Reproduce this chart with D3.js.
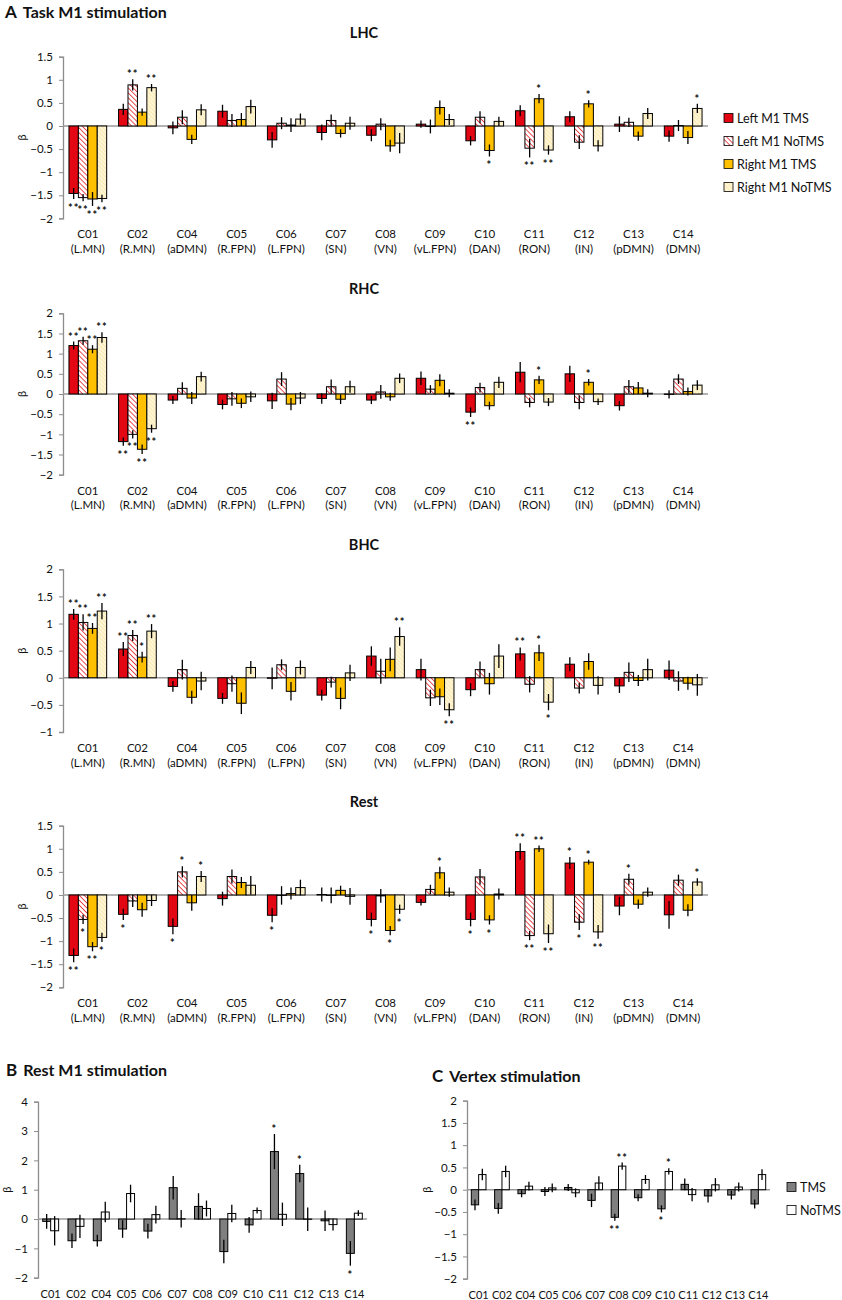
<!DOCTYPE html>
<html>
<head>
<meta charset="utf-8">
<script src="https://cdn.jsdelivr.net/npm/d3@7"></script>
<style>
  body { margin: 0; background: #fff; }
  text { font-family: Lato, "Open Sans", sans-serif; fill: #111; }
</style>
</head>
<body>
<div id="chart"></div>
<script>
// components and the networks they stand for
var categories = ["C01", "C02", "C04", "C05", "C06", "C07", "C08", "C09", "C10", "C11", "C12", "C13", "C14"];
var networks = ["(L.MN)", "(R.MN)", "(aDMN)", "(R.FPN)", "(L.FPN)", "(SN)", "(VN)", "(vL.FPN)", "(DAN)", "(RON)", "(IN)", "(pDMN)", "(DMN)"];
var seriesA = ["Left M1 TMS", "Left M1 NoTMS", "Right M1 TMS", "Right M1 NoTMS"];
var seriesBC = ["TMS", "NoTMS"];

// LHC  (order: Left TMS, Left NoTMS, Right TMS, Right NoTMS)
var lhcBeta = [
  [-1.46, 0.36, -0.04, 0.32, -0.30, -0.14, -0.20, 0.04, -0.32, 0.33, 0.20, 0.04, -0.22],
  [-1.55, 0.89, 0.19, 0.12, 0.06, 0.12, 0.04, -0.01, 0.19, -0.48, -0.35, 0.08, 0.01],
  [-1.58, 0.30, -0.29, 0.14, 0.02, -0.16, -0.43, 0.40, -0.53, 0.59, 0.48, -0.22, -0.25],
  [-1.57, 0.83, 0.35, 0.42, 0.15, 0.06, -0.37, 0.14, 0.10, -0.52, -0.43, 0.27, 0.38]
];
var lhcErr = [
  [0.12, 0.12, 0.14, 0.14, 0.17, 0.17, 0.13, 0.08, 0.10, 0.12, 0.12, 0.17, 0.12],
  [0.08, 0.12, 0.15, 0.14, 0.13, 0.13, 0.13, 0.15, 0.13, 0.20, 0.15, 0.10, 0.12],
  [0.15, 0.08, 0.10, 0.14, 0.15, 0.09, 0.13, 0.15, 0.13, 0.10, 0.08, 0.10, 0.14],
  [0.08, 0.08, 0.12, 0.15, 0.12, 0.14, 0.22, 0.12, 0.10, 0.10, 0.12, 0.12, 0.10]
];
var lhcStars = [
  ["**", "", "", "", "", "", "", "", "", "", "", "", ""],
  ["**", "**", "", "", "", "", "", "", "", "**", "", "", ""],
  ["**", "", "", "", "", "", "", "", "*", "*", "*", "", ""],
  ["**", "**", "", "", "", "", "", "", "", "**", "", "", "*"]
];

// RHC
var rhcBeta = [
  [1.20, -1.18, -0.15, -0.26, -0.17, -0.11, -0.15, 0.39, -0.45, 0.54, 0.50, -0.29, -0.01],
  [1.32, -1.00, 0.14, -0.12, 0.37, 0.18, 0.05, 0.12, 0.16, -0.21, -0.21, 0.18, 0.37],
  [1.11, -1.37, -0.10, -0.23, -0.25, -0.13, -0.07, 0.34, -0.29, 0.35, 0.29, 0.15, 0.06],
  [1.40, -0.86, 0.43, -0.07, -0.10, 0.18, 0.39, 0.02, 0.29, -0.20, -0.19, 0.02, 0.22]
];
var rhcErr = [
  [0.10, 0.10, 0.10, 0.12, 0.20, 0.13, 0.10, 0.17, 0.12, 0.25, 0.20, 0.12, 0.10],
  [0.10, 0.10, 0.15, 0.17, 0.17, 0.18, 0.17, 0.10, 0.12, 0.12, 0.17, 0.17, 0.12],
  [0.10, 0.12, 0.15, 0.12, 0.15, 0.12, 0.10, 0.15, 0.10, 0.10, 0.08, 0.15, 0.10],
  [0.13, 0.10, 0.12, 0.13, 0.15, 0.15, 0.12, 0.10, 0.14, 0.10, 0.08, 0.10, 0.12]
];
var rhcStars = [
  ["**", "**", "", "", "", "", "", "", "**", "", "", "", ""],
  ["**", "**", "", "", "", "", "", "", "", "", "", "", ""],
  ["**", "**", "", "", "", "", "", "", "", "*", "*", "", ""],
  ["**", "**", "", "", "", "", "", "", "", "", "", "", ""]
];

// BHC
var bhcBeta = [
  [1.17, 0.53, -0.16, -0.38, -0.01, -0.32, 0.40, 0.15, -0.22, 0.44, 0.25, -0.15, 0.14],
  [1.02, 0.78, 0.15, -0.11, 0.24, -0.08, 0.12, -0.37, 0.15, -0.12, -0.19, 0.10, -0.06],
  [0.91, 0.38, -0.36, -0.47, -0.25, -0.38, 0.34, -0.35, -0.11, 0.46, 0.30, -0.05, -0.10],
  [1.23, 0.86, -0.06, 0.19, 0.19, 0.09, 0.76, -0.59, 0.40, -0.45, -0.14, 0.15, -0.13]
];
var bhcErr = [
  [0.10, 0.13, 0.10, 0.10, 0.20, 0.10, 0.18, 0.20, 0.12, 0.12, 0.13, 0.13, 0.18],
  [0.15, 0.10, 0.18, 0.15, 0.10, 0.10, 0.23, 0.15, 0.15, 0.15, 0.10, 0.18, 0.18],
  [0.10, 0.10, 0.12, 0.20, 0.17, 0.20, 0.22, 0.15, 0.20, 0.15, 0.15, 0.10, 0.12],
  [0.15, 0.13, 0.17, 0.12, 0.13, 0.15, 0.17, 0.12, 0.22, 0.15, 0.17, 0.20, 0.20]
];
var bhcStars = [
  ["**", "**", "", "", "", "", "", "", "", "**", "", "", ""],
  ["**", "**", "", "", "", "", "", "", "", "", "", "", ""],
  ["**", "*", "", "", "", "", "", "", "", "*", "", "", ""],
  ["**", "**", "", "", "", "", "**", "**", "", "*", "", "", ""]
];

// Rest
var restBeta = [
  [-1.31, -0.42, -0.68, -0.08, -0.44, 0.01, -0.53, -0.16, -0.53, 0.94, 0.69, -0.24, -0.43],
  [-0.53, -0.13, 0.50, 0.40, -0.01, -0.01, -0.02, 0.12, 0.39, -0.88, -0.59, 0.34, 0.32],
  [-1.12, -0.32, -0.17, 0.27, 0.03, 0.10, -0.77, 0.48, -0.54, 1.00, 0.71, -0.20, -0.33],
  [-0.92, -0.12, 0.40, 0.21, 0.16, -0.03, -0.31, 0.06, 0.02, -0.84, -0.80, 0.06, 0.28]
];
var restErr = [
  [0.15, 0.12, 0.17, 0.15, 0.15, 0.15, 0.15, 0.07, 0.15, 0.18, 0.13, 0.20, 0.30],
  [0.10, 0.13, 0.12, 0.15, 0.20, 0.17, 0.15, 0.10, 0.17, 0.10, 0.17, 0.12, 0.12],
  [0.10, 0.15, 0.17, 0.12, 0.13, 0.10, 0.10, 0.13, 0.10, 0.07, 0.05, 0.10, 0.13],
  [0.10, 0.12, 0.12, 0.20, 0.17, 0.18, 0.10, 0.10, 0.12, 0.20, 0.15, 0.10, 0.08]
];
var restStars = [
  ["**", "*", "*", "", "*", "", "*", "", "*", "**", "*", "", ""],
  ["*", "", "*", "", "", "", "", "", "", "**", "*", "*", ""],
  ["**", "", "", "", "", "", "*", "*", "*", "**", "*", "", ""],
  ["*", "", "*", "", "", "", "*", "", "", "**", "**", "", "*"]
];

// B: Rest M1 stimulation (TMS, NoTMS)
var restM1Beta = [
  [-0.08, -0.74, -0.74, -0.34, -0.41, 1.07, 0.43, -1.11, -0.20, 2.30, 1.55, -0.06, -1.17],
  [-0.40, -0.25, 0.24, 0.87, 0.15, 0.01, 0.36, 0.19, 0.29, 0.16, -0.01, -0.19, 0.20]
];
var restM1Err = [
  [0.25, 0.25, 0.20, 0.30, 0.25, 0.40, 0.45, 0.40, 0.27, 0.60, 0.30, 0.35, 0.42],
  [0.50, 0.40, 0.35, 0.30, 0.30, 0.30, 0.27, 0.30, 0.10, 0.40, 0.40, 0.20, 0.10]
];
var restM1Stars = [
  ["", "", "", "", "", "", "", "", "", "*", "*", "", "*"],
  ["", "", "", "", "", "", "", "", "", "", "", "", ""]
];

// C: Vertex stimulation (TMS, NoTMS)
var vertexBeta = [
  [-0.34, -0.42, -0.09, -0.04, 0.05, -0.24, -0.62, -0.18, -0.43, 0.12, -0.14, -0.12, -0.32],
  [0.34, 0.41, 0.08, 0.04, -0.07, 0.15, 0.53, 0.23, 0.41, -0.11, 0.11, 0.06, 0.34]
];
var vertexErr = [
  [0.12, 0.12, 0.08, 0.10, 0.08, 0.15, 0.08, 0.08, 0.08, 0.13, 0.15, 0.10, 0.10],
  [0.13, 0.13, 0.10, 0.10, 0.10, 0.15, 0.08, 0.10, 0.07, 0.15, 0.15, 0.10, 0.12]
];
var vertexStars = [
  ["", "", "", "", "", "", "**", "", "*", "", "", "", ""],
  ["", "", "", "", "", "", "**", "", "*", "", "", "", ""]
];

var svg = d3.select("#chart").append("svg")
  .attr("width", 842)
  .attr("height", 1300);

// hatch patterns for the NoTMS bars
var defs = svg.append("defs");
var hatch = defs.append("pattern")
  .attr("id", "hatchRed")
  .attr("width", 3.5).attr("height", 3.5)
  .attr("patternUnits", "userSpaceOnUse")
  .attr("patternTransform", "rotate(-45)");
hatch.append("rect").attr("width", 3.5).attr("height", 3.5).attr("fill", "#fff");
hatch.append("line").attr("x1", 0).attr("y1", 0).attr("x2", 0).attr("y2", 3.5)
  .attr("stroke", "#e8242a").attr("stroke-width", 1.6);

var hatchY = defs.append("pattern")
  .attr("id", "hatchYellow")
  .attr("width", 3).attr("height", 3)
  .attr("patternUnits", "userSpaceOnUse")
  .attr("patternTransform", "rotate(-45)");
hatchY.append("rect").attr("width", 3).attr("height", 3).attr("fill", "#fff6d6");
hatchY.append("line").attr("x1", 0).attr("y1", 0).attr("x2", 0).attr("y2", 3)
  .attr("stroke", "#f8df96").attr("stroke-width", 1.2);

var fillsA = ["#e30613", "url(#hatchRed)", "#ffc000", "url(#hatchYellow)"];
var fillsBC = ["#7f7f7f", "#ffffff"];

function drawPanel(o) {
  var g = svg.append("g");

  var x = d3.scaleBand()
    .domain(categories)
    .range([o.x0, o.x1])
    .paddingInner(o.pad)
    .paddingOuter(o.pad / 2);

  var xs = d3.scaleBand()
    .domain(d3.range(o.beta.length))
    .range([0, x.bandwidth()]);

  var y = d3.scaleLinear()
    .domain(o.domain)
    .range([o.yBottom, o.yTop]);

  // y axis
  var ticks = d3.range(o.domain[0], o.domain[1] + o.step / 2, o.step);
  var yAxis = g.append("g")
    .attr("transform", "translate(" + o.x0 + ",0)")
    .call(d3.axisLeft(y).tickValues(ticks).tickSize(4).tickPadding(6)
      .tickFormat(function (d) { return d3.format("")(+d.toFixed(2)); }));
  yAxis.select(".domain").attr("stroke", "#8c8c8c").attr("stroke-width", 1.3);
  yAxis.selectAll(".tick line").attr("stroke", "#8c8c8c");
  yAxis.selectAll(".tick text").style("font-size", o.tickFont + "px").attr("fill", "#222");

  // zero line
  g.append("line")
    .attr("x1", o.x0).attr("x2", o.x1)
    .attr("y1", y(0)).attr("y2", y(0))
    .attr("stroke", "#9a9a9a").attr("stroke-width", 1.5);

  // beta label
  g.append("text")
    .attr("transform", "translate(" + o.betaX + "," + ((o.yTop + o.yBottom) / 2) + ") rotate(-90)")
    .attr("text-anchor", "middle")
    .style("font-size", "11px")
    .text("β");

  o.beta.forEach(function (vals, s) {
    var sg = g.append("g");
    var pts = categories.map(function (c, i) {
      return { c: c, v: vals[i], e: o.err[s][i], star: o.stars[s][i] };
    });

    sg.selectAll(".bar")
      .data(pts)
      .enter().append("rect")
      .attr("class", "bar")
      .attr("x", function (d) { return x(d.c) + xs(s); })
      .attr("width", xs.bandwidth())
      .attr("y", function (d) { return y(Math.max(0, d.v)); })
      .attr("height", function (d) { return Math.abs(y(d.v) - y(0)); })
      .attr("fill", o.fills[s])
      .attr("stroke", "#000")
      .attr("stroke-width", 1);

    sg.selectAll(".err")
      .data(pts)
      .enter().append("line")
      .attr("class", "err")
      .attr("x1", function (d) { return x(d.c) + xs(s) + xs.bandwidth() / 2; })
      .attr("x2", function (d) { return x(d.c) + xs(s) + xs.bandwidth() / 2; })
      .attr("y1", function (d) { return y(d.v - d.e); })
      .attr("y2", function (d) { return y(d.v + d.e); })
      .attr("stroke", "#000")
      .attr("stroke-width", 1.3);

    sg.selectAll(".star")
      .data(pts.filter(function (d) { return d.star; }))
      .enter().append("text")
      .attr("class", "star")
      .attr("x", function (d) { return x(d.c) + xs(s) + xs.bandwidth() / 2; })
      .attr("y", function (d) {
        return d.v >= 0 ? y(d.v + d.e) - 1 : y(d.v - d.e) + 13;
      })
      .attr("text-anchor", "middle")
      .style("font-size", "11px")
      .style("font-weight", "bold")
      .style("letter-spacing", "1px")
      .text(function (d) { return d.star; });
  });

  // category labels
  g.selectAll(".cat")
    .data(categories)
    .enter().append("text")
    .attr("x", function (d) { return x(d) + x.bandwidth() / 2; })
    .attr("y", o.yBottom + 20)
    .attr("text-anchor", "middle")
    .style("font-size", o.catFont + "px")
    .text(function (d) { return d; });

  if (o.sub) {
    g.selectAll(".sub")
      .data(networks)
      .enter().append("text")
      .attr("x", function (d, i) { return x(categories[i]) + x.bandwidth() / 2; })
      .attr("y", o.yBottom + 34.5)
      .attr("text-anchor", "middle")
      .style("font-size", o.catFont + "px")
      .text(function (d) { return d; });
  }

  if (o.title) {
    g.append("text")
      .attr("x", 364).attr("y", o.yTop - 19)
      .attr("text-anchor", "middle")
      .style("font-size", "14.5px")
      .style("font-weight", "bold")
      .text(o.title);
  }
}

function legend(names, fills, lx, ly, gap) {
  var lg = svg.append("g");
  names.forEach(function (n, i) {
    lg.append("rect")
      .attr("x", lx).attr("y", ly + i * gap - 4.5)
      .attr("width", 9).attr("height", 9)
      .attr("fill", fills[i]).attr("stroke", "#000").attr("stroke-width", 0.8);
    lg.append("text")
      .attr("x", lx + 13).attr("y", ly + i * gap + 4.5)
      .style("font-size", "12.5px")
      .text(n);
  });
}

function heading(letter, label, hx, hy) {
  var t = svg.append("text").attr("x", hx).attr("y", hy);
  t.append("tspan").style("font-size", "17px").style("font-weight", "bold").text(letter);
  t.append("tspan").attr("dx", 6).style("font-size", "16px").style("font-weight", "bold").text(label);
}

// Panel A
heading("A", "Task M1 stimulation", 5, 18);

var panelsA = [
  { title: "LHC", beta: lhcBeta, err: lhcErr, stars: lhcStars, domain: [-2, 1.5], yTop: 56.7, yBottom: 218.4 },
  { title: "RHC", beta: rhcBeta, err: rhcErr, stars: rhcStars, domain: [-2, 2], yTop: 313.3, yBottom: 474.7 },
  { title: "BHC", beta: bhcBeta, err: bhcErr, stars: bhcStars, domain: [-1, 2], yTop: 569.3, yBottom: 732 },
  { title: "Rest", beta: restBeta, err: restErr, stars: restStars, domain: [-2, 1.5], yTop: 825.7, yBottom: 987.3 }
];

panelsA.forEach(function (p) {
  drawPanel({
    title: p.title, beta: p.beta, err: p.err, stars: p.stars,
    domain: p.domain, yTop: p.yTop, yBottom: p.yBottom, step: 0.5,
    x0: 63, x1: 708, pad: 0.24, fills: fillsA,
    betaX: 26, tickFont: 11.5, catFont: 11.5, sub: true
  });
});

legend(seriesA, fillsA, 724, 118, 23);

// Panel B
heading("B", "Rest M1 stimulation", 6, 1076);
drawPanel({
  beta: restM1Beta, err: restM1Err, stars: restM1Stars,
  domain: [-2, 4], yTop: 1101.7, yBottom: 1277.7, step: 1,
  x0: 38, x1: 367, pad: 0.37, fills: fillsBC,
  betaX: 11, tickFont: 11.5, catFont: 11, sub: false
});

// Panel C
heading("C", "Vertex stimulation", 432, 1082);
drawPanel({
  beta: vertexBeta, err: vertexErr, stars: vertexStars,
  domain: [-2, 2], yTop: 1100.7, yBottom: 1278.7, step: 0.5,
  x0: 467, x1: 770, pad: 0.37, fills: fillsBC,
  betaX: 431, tickFont: 11.5, catFont: 11, sub: false
});

legend(seriesBC, fillsBC, 787, 1187, 23);
</script>
</body>
</html>
